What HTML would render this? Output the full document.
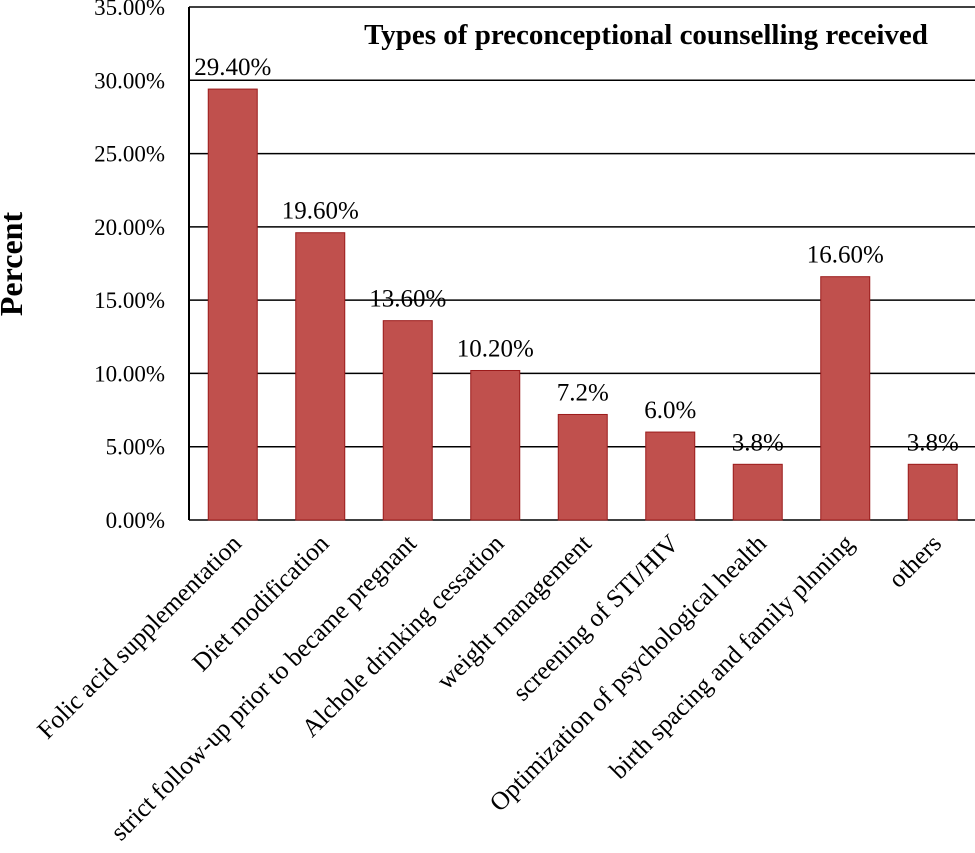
<!DOCTYPE html>
<html><head><meta charset="utf-8"><style>
html,body{margin:0;padding:0;background:#fff;}
svg text{font-family:"Liberation Serif",serif;fill:#000;}
</style></head><body>
<svg id="chart" width="975" height="848">
<text x="646" y="44" text-anchor="middle" font-size="29" font-weight="bold">Types of preconceptional counselling received</text>
<text transform="translate(22,264) rotate(-90)" text-anchor="middle" font-size="32" font-weight="bold">Percent</text>
<g id="grid"></g><g id="bars"></g><g id="labels"></g>
</svg>
<script>
const categories=["Folic acid supplementation","Diet modification","strict follow-up prior to became pregnant","Alchole drinking cessation","weight management","screening of STI/HIV","Optimization of psychological health","birth spacing and family plnning","others"];
const values=[29.4,19.6,13.6,10.2,7.2,6.0,3.8,16.6,3.8];
const valueLabels=["29.40%","19.60%","13.60%","10.20%","7.2%","6.0%","3.8%","16.60%","3.8%"];
const ticks=[0,5,10,15,20,25,30,35];
const tickLabels=["0.00%","5.00%","10.00%","15.00%","20.00%","25.00%","30.00%","35.00%"];
const NS="http://www.w3.org/2000/svg";
const x0=189,bw=87.5,y0=520,yTop=7,ymax=35;
const y=v=>y0-(v/ymax)*(y0-yTop);
const xc=i=>x0+bw*(i+0.5);
function mk(t,a,p){const e=document.createElementNS(NS,t);for(const k in a)e.setAttribute(k,a[k]);p.appendChild(e);return e;}
const grid=document.getElementById('grid'),bars=document.getElementById('bars'),labels=document.getElementById('labels');
ticks.forEach((t,i)=>{
 const l=mk('line',{x1:x0,x2:975,y1:y(t),y2:y(t),stroke:'#000','stroke-width':1.5},grid);
 
 
 const tx=mk('text',{x:165,y:y(t)+8,'text-anchor':'end','font-size':23},grid);
 tx.textContent=tickLabels[i];
 
 
});
const ax=mk('line',{x1:x0,x2:x0,y1:yTop,y2:y0,stroke:'#000','stroke-width':2},grid);


values.forEach((v,i)=>{
 const r=mk('rect',{x:xc(i)-24.5,y:y(v),width:49,height:y0-y(v),fill:'#c0504d',stroke:'#9b1b1b','stroke-width':1},bars);
 
 
 const t=mk('text',{x:xc(i),y:y(v)-14,'text-anchor':'middle','font-size':25},labels);
 t.textContent=valueLabels[i];
 
 
 const c=mk('text',{transform:`translate(${xc(i)+10},${545}) rotate(-45)`,'text-anchor':'end','font-size':25.5},labels);
 c.textContent=categories[i];
 
 
});
</script>
</body></html>
